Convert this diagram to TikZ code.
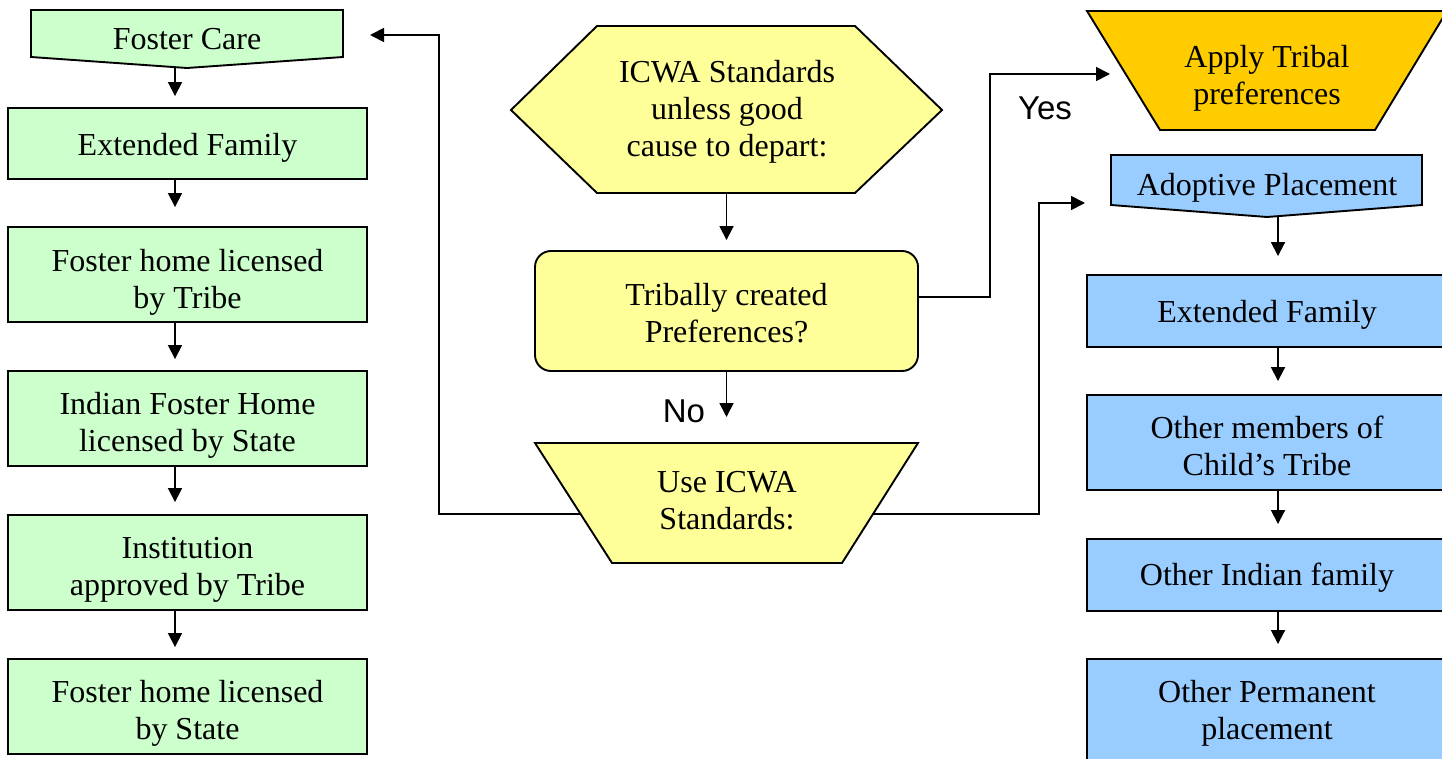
\documentclass[tikz,border=0pt]{standalone}
\usepackage{fontspec}
\setmainfont{Liberation Serif}
\newfontfamily\arialf{Liberation Sans}
\usetikzlibrary{arrows.meta,calc}
\definecolor{gfill}{HTML}{CCFFCC}
\definecolor{bfill}{HTML}{99CCFF}
\definecolor{yfill}{HTML}{FFFF99}
\definecolor{ofill}{HTML}{FFCC00}
\begin{document}
\begin{tikzpicture}[x=1pt,y=-1pt,
  txt/.style={align=center,inner sep=0pt,font=\fontsize{32}{37}\selectfont},
  box/.style={draw=black,line width=1.9pt,inner sep=0pt},
  gbox/.style={box,fill=gfill,minimum width=359pt},
  bbox/.style={box,fill=bfill,minimum width=360pt},
  shp/.style={draw=black,line width=1.9pt,line join=miter},
  lbl/.style={inner sep=0pt,font=\arialf\fontsize{33}{36}\selectfont},
  arr/.style={line width=1.8pt,-{Triangle[length=14pt,width=14pt]},shorten >=12pt}
]
\useasboundingbox (0,0) rectangle (1442,759);
\clip (0,0) rectangle (1442,759);

% left column
\draw[shp,fill=gfill] (31,10) -- (343,10) -- (343,57) -- (187,68) -- (31,57) -- cycle;
\node[txt] (fc) at (187,39) {Foster Care};
\coordinate (fcP) at (175,67);
\coordinate (fcR) at (343,35);
\node[gbox,minimum height=71pt] (ef) at (187.5,143.5) {};
\node[txt] (efT) at (187.5,148) {Extended Family};
\node[gbox,minimum height=95pt] (fht) at (187.5,274.5) {};
\node[txt] (fhtT) at (187.5,282) {Foster home licensed\\by Tribe};
\node[gbox,minimum height=95pt] (ifh) at (187.5,418.5) {};
\node[txt] (ifhT) at (187.5,425.5) {Indian Foster Home\\licensed by State};
\node[gbox,minimum height=95pt] (inst) at (187.5,562.5) {};
\node[txt] (instT) at (187.5,569.5) {Institution\\approved by Tribe};
\node[gbox,minimum height=95pt] (fhs) at (187.5,706.5) {};
\node[txt] (fhsT) at (187.5,713.5) {Foster home licensed\\by State};

% centre
\draw[shp,fill=yfill] (597,26) -- (855,26) -- (942,110) -- (855,193) -- (597,193) -- (511,110) -- cycle;
\node[txt] (hex) at (727,112) {ICWA Standards\\unless good\\cause to depart:};
\coordinate (hexS) at (726.5,193);
\node[box,fill=yfill,rounded corners=16pt,minimum width=383pt,minimum height=120pt] (tri) at (726.5,311) {};
\node[txt] (triT) at (726.5,313.5) {Tribally created\\Preferences?};
\draw[shp,fill=yfill] (535,443) -- (918,443) -- (842,563) -- (612,563) -- cycle;
\node[txt] (use) at (727,501) {Use ICWA\\Standards:};
\coordinate (useN) at (726.5,443);
\coordinate (useL) at (580.6,514);
\coordinate (useR) at (873,514);
\node[lbl] (no) at (684,411) {No};

% right column
\draw[shp,fill=ofill] (1087,11) -- (1447,11) -- (1375,130) -- (1160,130) -- cycle;
\node[txt] (apt) at (1267,78) {Apply Tribal\\preferences};
\coordinate (aptL) at (1125,74);
\node[lbl] (yes) at (1045,108) {Yes};
\draw[shp,fill=bfill] (1111,155) -- (1422,155) -- (1422,205) -- (1267,217) -- (1111,205) -- cycle;
\node[txt] (ap) at (1267,188) {Adoptive Placement};
\coordinate (apP) at (1278,216);
\coordinate (apL) at (1111,203);
\node[bbox,minimum height=72pt] (ref) at (1267,311) {};
\node[txt] (refT) at (1267,315) {Extended Family};
\node[bbox,minimum height=95pt] (rom) at (1267,442.5) {};
\node[txt] (romT) at (1267,445.5) {Other members of\\Child’s Tribe};
\node[bbox,minimum height=72pt] (roi) at (1267,575) {};
\node[txt] (roiT) at (1267,578) {Other Indian family};
\node[bbox,minimum height=102pt] (rop) at (1267,710) {};
\node[txt] (ropT) at (1267,713) {Other Permanent\\placement};

% connectors left
\draw[arr,shorten >=11pt] (fcP) -- (fcP |- ef.north);
\draw[arr,shorten >=19pt] ([xshift=-12.5pt]ef.south) -- ([xshift=-12.5pt]fht.north);
\draw[arr,shorten >=11pt] ([xshift=-12.5pt]fht.south) -- ([xshift=-12.5pt]ifh.north);
\draw[arr,shorten >=12pt] ([xshift=-12.5pt]ifh.south) -- ([xshift=-12.5pt]inst.north);
\draw[arr,shorten >=11pt] ([xshift=-12.5pt]inst.south) -- ([xshift=-12.5pt]fhs.north);

% connectors centre
\draw[arr,shorten >=10pt] (hexS) -- (tri.north);
\draw[arr,shorten >=26pt] (tri.south) -- (useN);
\draw[arr,shorten >=15pt] ([yshift=14pt]tri.east) -- (990,297) |- (aptL);
\draw[arr,shorten >=27pt] (useL) -- (439,514) |- (fcR);
\draw[arr,shorten >=26pt] (useR) -- (1039,514) |- (apL);

% connectors right
\draw[arr,shorten >=18pt] (apP) -- (apP |- ref.north);
\draw[arr,shorten >=13pt] ([xshift=11pt]ref.south) -- ([xshift=11pt]rom.north);
\draw[arr,shorten >=14pt] ([xshift=11pt]rom.south) -- ([xshift=11pt]roi.north);
\draw[arr,shorten >=14pt] ([xshift=11pt]roi.south) -- ([xshift=11pt]rop.north);
\end{tikzpicture}
\end{document}
